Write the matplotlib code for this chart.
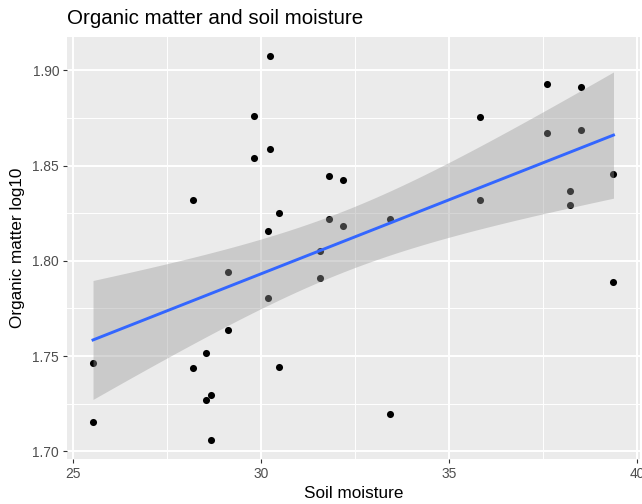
import matplotlib
matplotlib.use("Agg")
import matplotlib.pyplot as plt
import numpy as np

# soil moisture (x) and organic matter log10 (y)
moisture = [25.52, 25.52, 28.17, 28.17, 28.54, 28.54, 28.65, 28.65, 29.12, 29.12,
            29.80, 29.80, 30.23, 30.23, 30.17, 30.17, 30.47, 30.47, 31.56, 31.56,
            31.81, 31.81, 32.18, 32.18, 33.43, 33.43, 35.82, 35.82, 37.62, 37.62,
            38.51, 38.51, 38.21, 38.21, 39.38, 39.38]
organic = [1.7463, 1.7151, 1.8318, 1.7437, 1.7516, 1.7267, 1.7297, 1.7060, 1.7943, 1.7638,
           1.8762, 1.8539, 1.9074, 1.8586, 1.8156, 1.7805, 1.8253, 1.7440, 1.8051, 1.7910,
           1.8443, 1.8221, 1.8424, 1.8181, 1.8221, 1.7197, 1.8753, 1.8321, 1.8929, 1.8671,
           1.8911, 1.8689, 1.8368, 1.8291, 1.8456, 1.7889]

xticks = [25, 30, 35, 40]
yticks = [1.70, 1.75, 1.80, 1.85, 1.90]
ytick_labels = ["1.70", "1.75", "1.80", "1.85", "1.90"]

x = np.array(moisture)
y = np.array(organic)

# linear fit + 95% confidence band (like geom_smooth(method="lm"))
n = len(x)
slope, intercept = np.polyfit(x, y, 1)
resid = y - (slope * x + intercept)
s = np.sqrt(np.sum(resid ** 2) / (n - 2))
sxx = np.sum((x - x.mean()) ** 2)
t_crit = 2.0322  # t(0.975, df=34)
xs = np.linspace(x.min(), x.max(), 80)
ys = slope * xs + intercept
se = s * np.sqrt(1 / n + (xs - x.mean()) ** 2 / sxx)

plt.rcParams['font.family'] = ['Liberation Sans', 'DejaVu Sans']

fig = plt.figure(figsize=(6.42, 5.04), dpi=100)
ax = fig.add_axes([67 / 642, 45 / 504, 572.5 / 642, 422 / 504])
ax.set_facecolor('#EBEBEB')

ax.scatter(x, y, s=26, color='black', linewidths=0, zorder=2)
ax.fill_between(xs, ys - t_crit * se, ys + t_crit * se, color='#999999', alpha=0.4,
                linewidth=0, zorder=3)
ax.plot(xs, ys, color='#3366FF', lw=2.1, zorder=4)

xr = x.max() - x.min()
yr = y.max() - y.min()
ax.set_xlim(x.min() - 0.05 * xr, x.max() + 0.05 * xr)
ax.set_ylim(y.min() - 0.05 * yr, y.max() + 0.05 * yr)

ax.set_xticks(xticks)
ax.set_yticks(yticks)
ax.set_yticklabels(ytick_labels)
ax.set_xticks([27.5, 32.5, 37.5], minor=True)
ax.set_yticks([1.725, 1.775, 1.825, 1.875], minor=True)
ax.grid(True, which='major', color='white', lw=1.4)
ax.grid(True, which='minor', color='white', lw=0.7)
ax.set_axisbelow(True)
for sp in ax.spines.values():
    sp.set_visible(False)
ax.tick_params(which='major', length=3.2, width=0.8, color='#333333',
               labelsize=9.9, labelcolor='#4D4D4D', pad=2.5)
ax.tick_params(which='minor', length=0)

ax.set_xlabel('Soil moisture', fontsize=12.3, labelpad=4)
ax.set_ylabel('Organic matter log10', fontsize=12.3, labelpad=5)
ax.set_title('Organic matter and soil moisture', loc='left', fontsize=14.8, pad=9)

fig.savefig('out.png', dpi=100)
